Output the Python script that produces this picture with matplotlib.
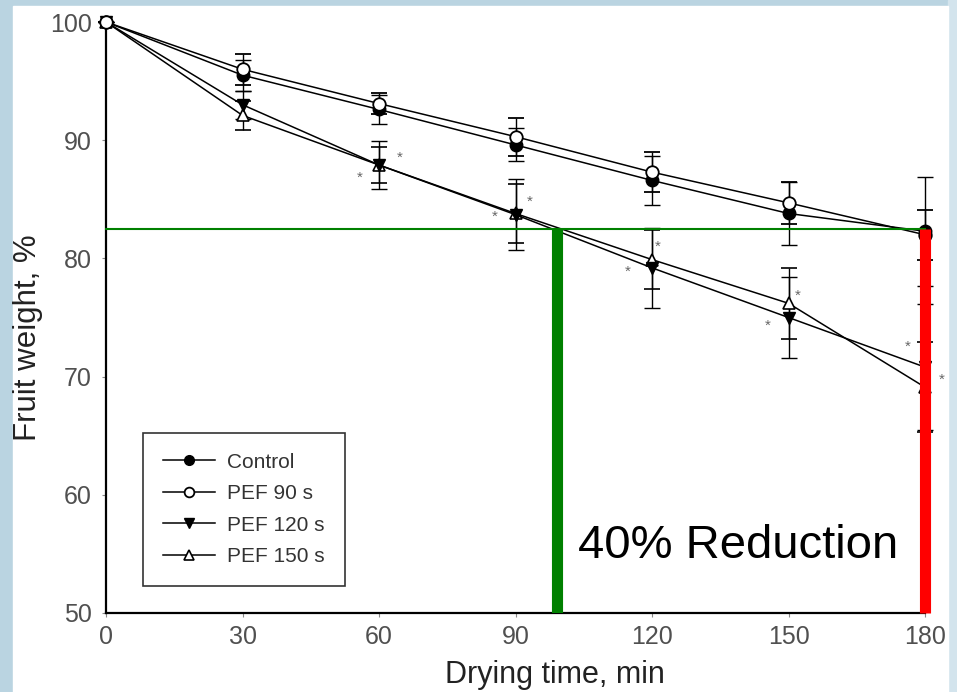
import matplotlib
matplotlib.use("Agg")
import matplotlib.pyplot as plt
from matplotlib.patches import Rectangle
from matplotlib.lines import Line2D

plt.rcParams['font.family'] = ['Liberation Sans', 'DejaVu Sans']

# ---- data ----
time = [0, 30, 60, 90, 120, 150, 180]
control = [100, 95.5, 92.6, 89.6, 86.6, 83.8, 82.3]
control_err = [0, 1.3, 1.2, 1.4, 2.1, 2.7, 4.6]
pef90 = [100, 96.0, 93.1, 90.3, 87.3, 84.7, 82.0]
pef90_err = [0, 1.3, 0.9, 1.6, 1.7, 1.8, 2.1]
pef120 = [100, 93.0, 87.9, 83.7, 79.2, 75.0, 70.8]
pef120_err = [0, 1.2, 2.0, 3.0, 3.4, 3.4, 5.3]
pef150 = [100, 92.1, 87.9, 83.8, 79.9, 76.2, 69.1]
pef150_err = [0, 1.2, 1.5, 2.5, 2.5, 3.0, 3.8]
series_labels = ['Control', 'PEF 90 s', 'PEF 120 s', 'PEF 150 s']

# significance asterisks (times, offsets in pixels)
star_times_120 = [60, 90, 120, 150, 180]
star_off_120 = [(-19, -13), (-21, -2), (-24, -4), (-21, -8), (-17, 20)]
star_times_150 = [60, 90, 120, 150, 180]
star_off_150 = [(21, 7), (14, 12), (6, 13), (9, 8), (17, 7)]

# annotation values
ref_level = 82.5
green_time = 99.1
red_time = 180
annot_text = '40% Reduction'

xticks = [0, 30, 60, 90, 120, 150, 180]
yticks = [50, 60, 70, 80, 90, 100]

# ---- figure ----
W, H = 957, 692
fig = plt.figure(figsize=(W / 100, H / 100), dpi=100, facecolor='#bad4e1')
fig.patches.append(Rectangle((948 / W, 0), 9 / W, 1, transform=fig.transFigure,
                             color='#d3e4ed', zorder=0))
fig.patches.append(Rectangle((13 / W, 0), (948 - 13) / W, (H - 6) / H,
                             transform=fig.transFigure, color='white', zorder=1))

ax = fig.add_axes([106 / W, 1 - 613 / H, (925 - 106) / W, (613 - 22) / H])
ax.set_facecolor('none')
ax.set_zorder(2)

styles = [
    dict(marker='o', mfc='black', mec='black'),
    dict(marker='o', mfc='white', mec='black', mew=1.3),
    dict(marker='v', mfc='black', mec='black'),
    dict(marker='^', mfc='white', mec='black', mew=1.2),
]
zorders = [3.2, 3.3, 3.1, 3.0]
datasets = [(control, control_err), (pef90, pef90_err),
            (pef120, pef120_err), (pef150, pef150_err)]
handles = []
for (vals, errs), st, lab, z in zip(datasets, styles, series_labels, zorders):
    ax.errorbar(time, vals, yerr=errs, color='black', lw=1.1, elinewidth=1.0,
                capsize=5.5, capthick=1.0, ms=9, clip_on=False, zorder=z, **st)
    handles.append(Line2D([], [], color='black', lw=1.1, ms=7, label=lab, **st))

for t, (dx, dy) in zip(star_times_120, star_off_120):
    v = pef120[time.index(t)]
    ax.annotate('*', xy=(t, v), xytext=(dx, dy), textcoords='offset pixels',
                ha='center', va='center', fontsize=11, color='#666666')
for t, (dx, dy) in zip(star_times_150, star_off_150):
    v = pef150[time.index(t)]
    ax.annotate('*', xy=(t, v), xytext=(dx, dy), textcoords='offset pixels',
                ha='center', va='center', fontsize=11, color='#666666')

# annotation lines
ax.plot([0, red_time], [ref_level, ref_level], color='#008000', lw=1.5, zorder=4,
        clip_on=False)
ax.plot([green_time, green_time], [50, ref_level], color='#008000', lw=8,
        solid_capstyle='butt', zorder=4)
ax.plot([red_time, red_time], [50, ref_level], color='#ff0000', lw=8,
        solid_capstyle='butt', zorder=4, clip_on=False)
ax.text(103.7, 54.65, annot_text, fontsize=34, color='black', ha='left',
        va='baseline', zorder=5)

ax.set_xlim(0, 180)
ax.set_ylim(50, 100)
ax.set_xticks(xticks)
ax.set_yticks(yticks)
for s in ['top', 'right']:
    ax.spines[s].set_visible(False)
for s in ['left', 'bottom']:
    ax.spines[s].set_linewidth(1.6)
    ax.spines[s].set_color('black')
ax.tick_params(direction='out', length=3, width=0.8, color='#888888',
               labelcolor='#505050', labelsize=18)
ax.tick_params(axis='y', pad=7)
ax.tick_params(axis='x', pad=6)

ax.set_xlabel('Drying time, min', fontsize=22, color='#222222')
ax.xaxis.set_label_coords(0.548, -0.080)
ax.set_ylabel('Fruit weight, %', fontsize=22.5, color='#222222')
ax.yaxis.set_label_coords(-0.077, 0.465)

leg = ax.legend(handles=handles, loc='lower left', bbox_to_anchor=(0.045, 0.0457),
                borderaxespad=0, fontsize=15, frameon=True, fancybox=False,
                framealpha=1, edgecolor='#333333', handlelength=2.5,
                handletextpad=0.6, labelspacing=0.6, borderpad=0.95)
leg.get_frame().set_linewidth(1.2)
for txt in leg.get_texts():
    txt.set_color('#333333')

fig.savefig('out.png', dpi=100, facecolor=fig.get_facecolor())
